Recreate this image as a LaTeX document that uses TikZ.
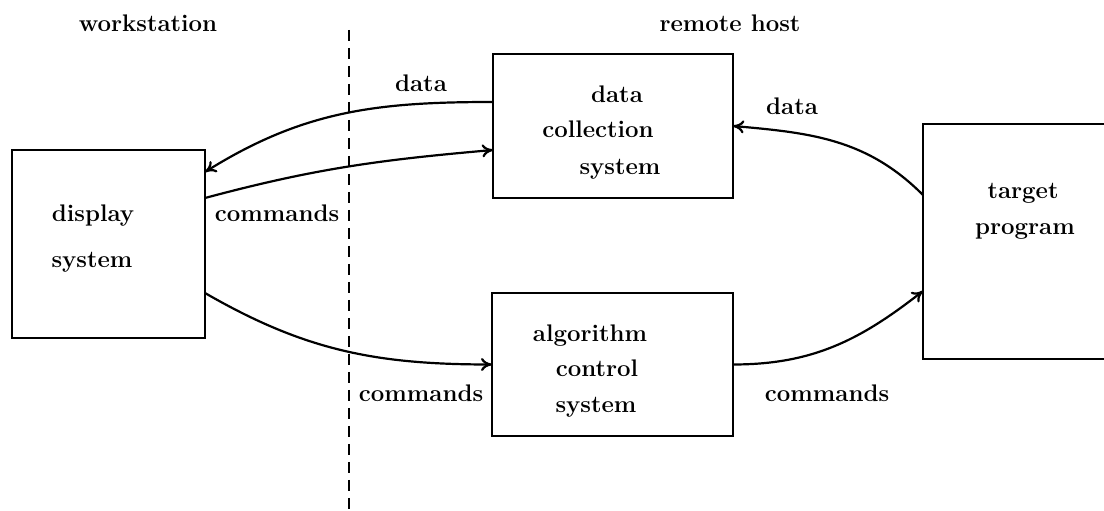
\documentclass[tikz,border=0pt]{standalone}
\usetikzlibrary{arrows.meta,calc}
\begin{document}
\begin{tikzpicture}[x=1pt,y=1pt,
  box/.style={draw,line width=2pt,inner sep=0pt,outer sep=0pt},
  lbl/.style={anchor=base,inner sep=0pt,font=\fontsize{24}{28}\selectfont\bfseries},
  flow/.style={line width=2.2pt,-{To[length=11pt,width=13pt]}},
  divider/.style={line width=2pt,dash pattern=on 11pt off 7pt}]
\clip (0,0) rectangle (1104,511);
\fill[white] (0,0) rectangle (1104,511);
% boxes
\node[box,minimum width=193pt,minimum height=188pt] (disp) at (108.5,267) {};
\node[box,minimum width=240pt,minimum height=144pt] (dc) at (613,385) {};
\node[box,minimum width=241pt,minimum height=143pt] (alg) at (612.5,146.5) {};
\node[box,minimum width=192pt,minimum height=235pt] (tgt) at (1019,269.5) {};
% divider
\coordinate (dtop) at (349,481);
\coordinate (dbot) at (349,0);
\draw[divider] (dtop) -- (dbot);
% headings
\node[lbl] (ws) at (148,479) {workstation};
\node[lbl] (rh) at (730,479) {remote host};
% box texts
\node[lbl] (disp1) at (93,289) {display};
\node[lbl] (disp2) at (92,243) {system};
\node[lbl] (dc1) at (617,408) {data};
\node[lbl] (dc2) at (598,373) {collection};
\node[lbl] (dc3) at (620,336) {system};
\node[lbl] (alg1) at (590,169) {algorithm};
\node[lbl] (alg2) at (597,134) {control};
\node[lbl] (alg3) at (596,98) {system};
\node[lbl] (tgt1) at (1023,312) {target};
\node[lbl] (tgt2) at (1025,276) {program};
% connector labels
\node[lbl] (l1) at (421,419) {data};
\node[lbl] (l2) at (277,289) {commands};
\node[lbl] (l3) at (421,109) {commands};
\node[lbl] (l4) at (827,109) {commands};
\node[lbl] (l5) at (792,396) {data};
% connectors
\draw[flow] ($(dc.west)+(0,24)$) to[out=180,in=32] ($(disp.east)+(0,72)$);
\draw[flow] ($(disp.east)+(0,46)$) to[out=15,in=185] ($(dc.west)+(0,-24)$);
\draw[flow] ($(disp.east)+(0,-49)$) to[out=-30,in=180] (alg.west);
\draw[flow] (alg.east) to[out=0,in=218] ($(tgt.west)+(0,-49.5)$);
\draw[flow] ($(tgt.west)+(0,46.5)$) to[out=135,in=-5] (dc.east);
\end{tikzpicture}
\end{document}
